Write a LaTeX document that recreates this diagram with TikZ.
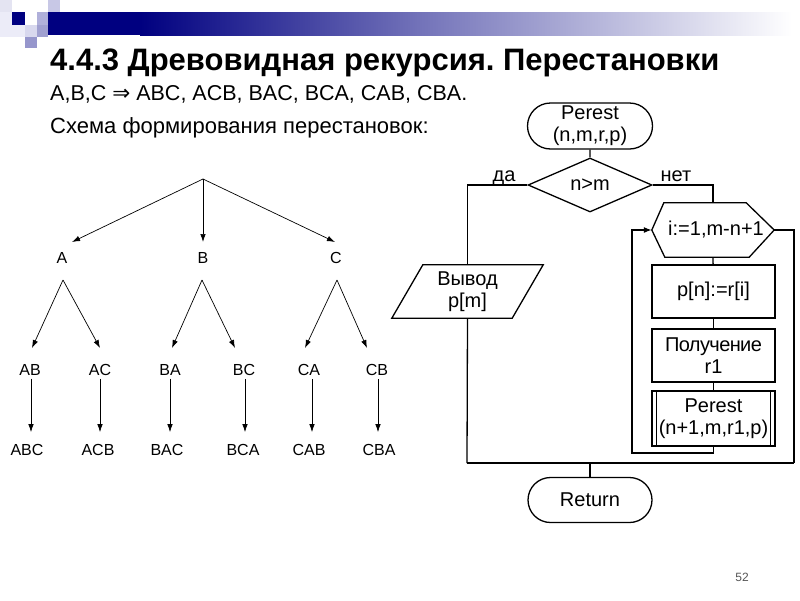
\documentclass[tikz,border=0pt]{standalone}
\usepackage{fontspec}
\setmainfont{Liberation Sans}
\newfontfamily\dejavu{DejaVu Sans}
\newfontfamily\tightsans[LetterSpace=-3]{Liberation Sans}
\usetikzlibrary{shapes.misc,shapes.geometric,arrows.meta,calc}
\definecolor{navy}{RGB}{0,0,128}
\definecolor{sqA}{RGB}{228,228,242}
\definecolor{sqB}{RGB}{236,236,248}
\definecolor{sqC}{RGB}{176,176,218}
\definecolor{sqD}{RGB}{200,200,230}
\definecolor{sqE}{RGB}{216,216,238}
\definecolor{sqF}{RGB}{160,160,208}
\definecolor{sqG}{RGB}{150,150,204}
\definecolor{pgnum}{RGB}{85,85,85}
\frenchspacing
\begin{document}
\begin{tikzpicture}[x=1pt,y=-1pt,
  flline/.style={line width=1.3pt},
  fltext/.style={font=\fontsize{20}{22}\selectfont, align=center, inner sep=0pt},
  term/.style={fltext, draw, flline, rounded rectangle, minimum width=125pt, minimum height=46pt},
  cond/.style={fltext, draw, flline, diamond, minimum width=124pt, minimum height=54pt},
  proc/.style={fltext, draw, flline, rectangle, minimum width=123pt, minimum height=53pt},
  lbl/.style={font=\fontsize{20}{22}\selectfont, inner sep=0pt},
  tl/.style={font=\fontsize{16}{18}\selectfont, inner sep=3pt},
  tarr/.style={line width=0.7pt, -{Latex[length=8pt,width=5.5pt]}},
  farr/.style={flline, -{Latex[length=8pt,width=6pt]}}
]
\useasboundingbox (0,0) rectangle (800,600);

% header decoration
\fill[navy] (48,12) rectangle (140,35);
\shade[left color=navy, right color=navy!55!white] (140,12) rectangle (420,35);
\shade[left color=navy!55!white, right color=white] (420,12) rectangle (792,35);
\fill[sqA] (0,0) rectangle (12,12);
\fill[sqB] (0,12) rectangle (12,37);
\fill[navy] (12,12) rectangle (25,25);
\fill[sqB] (12,25) rectangle (25,37);
\fill[sqC] (37,12) rectangle (48,25);
\fill[sqD] (48,0) rectangle (60,12);
\fill[sqE] (25,25) rectangle (37,37);
\fill[sqF] (37,25) rectangle (48,37);
\fill[sqG] (25,37) rectangle (37,48);

% texts
\node[anchor=base west, inner sep=0pt, font=\fontsize{31}{34}\selectfont\bfseries] (title) at (50,70) {4.4.3 Древовидная рекурсия. Перестановки};
\node[anchor=base west, inner sep=0pt, font=\fontsize{21.5}{24}\selectfont] (line2) at (50,100) {A,B,C {\dejavu ⇒} ABC, ACB, BAC, BCA, CAB, CBA.};
\node[anchor=base west, inner sep=0pt, font=\fontsize{22}{24}\selectfont] (line3) at (50,133) {Схема формирования перестановок:};
\node[anchor=center, inner sep=0pt, font=\fontsize{12}{14}\selectfont, text=pgnum] (page) at (742,577) {52};

% tree
\coordinate (root) at (203,179);
\node[tl] (a) at (62,258) {A};
\node[tl] (b) at (203,258) {B};
\node[tl] (c) at (336,258) {C};
\node[tl] (ab) at (30,370) {AB};
\node[tl] (ac) at (100,370) {AC};
\node[tl] (ba) at (170,370) {BA};
\node[tl] (bc) at (244,370) {BC};
\node[tl] (ca) at (309,370) {CA};
\node[tl] (cb) at (377,370) {CB};
\node[tl] (abc) at (27,450) {ABC};
\node[tl] (acb) at (98,450) {ACB};
\node[tl] (bac) at (167,450) {BAC};
\node[tl] (bca) at (243,450) {BCA};
\node[tl] (cab) at (309,450) {CAB};
\node[tl] (cba) at (379,450) {CBA};

\draw[tarr] (root) -- ($(a)+(10,-16)$);
\draw[tarr] (root) -- ($(b)+(0,-16)$);
\draw[tarr] (root) -- ($(c)+(-1,-16)$);
\draw[tarr] ($(a)+(1,22)$) -- ($(ab)+(2,-22)$);
\draw[tarr] ($(a)+(1,22)$) -- ($(ac)+(0,-22)$);
\draw[tarr] ($(b)+(-1,22)$) -- ($(ba)+(2,-22)$);
\draw[tarr] ($(b)+(-1,22)$) -- ($(bc)+(-9,-22)$);
\draw[tarr] ($(c)+(1,22)$) -- ($(ca)+(-4,-22)$);
\draw[tarr] ($(c)+(1,22)$) -- ($(cb)+(-10,-22)$);
\foreach \u/\v/\dx in {ab/abc/1, ac/acb/0, ba/bac/0, bc/bca/1, ca/cab/3, cb/cba/1} {
  \draw[tarr] ($(\u.south)+(\dx,0)$) -- ($(\u.south |- \v.north)+(\dx,-9)$);
}

% flowchart
\node[term] (start) at (590,126) {Perest\\(n,m,r,p)};
\node[cond] (test) at (590,185) {n>m};
\node[lbl, anchor=base] (yes) at (504,181) {да};
\node[lbl, anchor=base] (no) at (676,181) {нет};

\node[fltext, minimum width=151pt, minimum height=53pt] (out) at (467.5,291.5) {Вывод\\p[m]};
\draw[flline] (out.south west) -- ($(out.north west)+(31,0)$) -- (out.north east) -- ($(out.south east)+(-31,0)$) -- cycle;

\node[fltext, minimum width=122pt, minimum height=54pt] (loop) at (713,230) {\hspace*{6pt}i:=1,m-n+1};
\draw[flline] (loop.west) -- ($(loop.north west)+(12,0)$) -- ($(loop.north east)+(-28,0)$) -- (loop.east) -- ($(loop.south east)+(-25,0)$) -- ($(loop.south west)+(13,0)$) -- cycle;

\node[proc] (b1) at (713.5,291.5) {p[n]:=r[i]};
\node[proc] (b2) at (713.5,355.5) {{\tightsans\fontsize{20}{22}\selectfont Получение}\\r1};
\node[proc, minimum height=55pt] (b3) at (713.5,418.5) {Perest\\(n+1,m,r1,p)};
\draw[flline] ($(b3.north west)+(5,0)$) -- ($(b3.south west)+(5,0)$);
\draw[flline] ($(b3.north east)+(-5,0)$) -- ($(b3.south east)+(-5,0)$);

\node[term, minimum width=124pt, minimum height=45pt] (ret) at (590,500) {Return};

\coordinate (bl) at (467,463);
\coordinate (br) at (794,463);
\coordinate (jn) at (590,463);
\coordinate (ll) at (632,453);

\draw[flline] (start) -- (test);
\draw[flline] (test.west) -| (out.north);
\draw[flline] (out.south) -- (bl);
\draw[line width=2pt] (bl) -- (br);
\draw[flline] (jn) -- (ret.north);
\draw[flline] (test.east) -| (loop.north);
\draw[flline] (loop.south) -- (b1);
\draw[flline] (b1) -- (b2);
\draw[flline] (b2) -- (b3);
\draw[farr] (b3.south) |- (ll) |- (loop.west);
\draw[flline] (loop.east) -| (br);
\end{tikzpicture}
\end{document}
